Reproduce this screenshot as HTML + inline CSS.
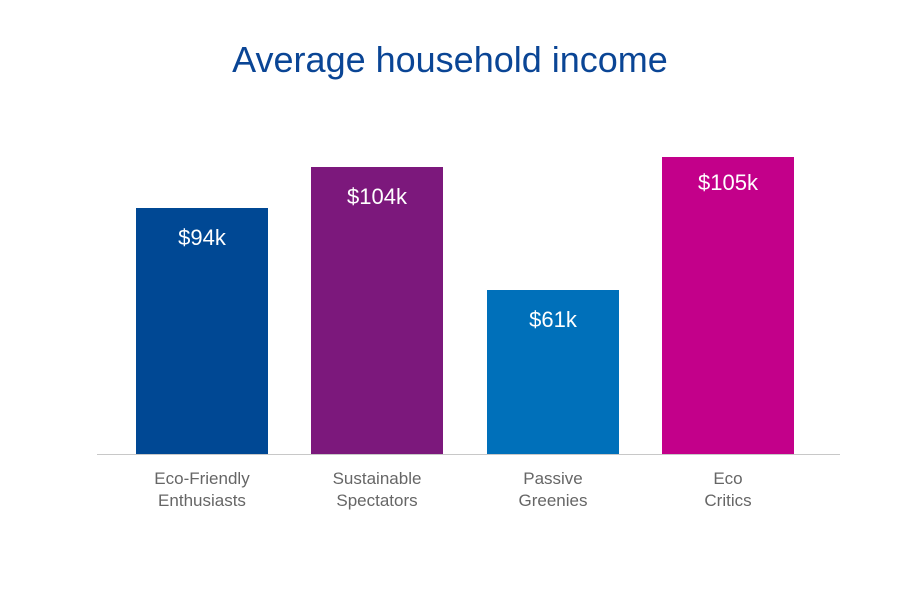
<!DOCTYPE html>
<html><head><style>
body{margin:0;width:900px;height:600px;background:#fff;overflow:hidden}
svg text{font-family:"Liberation Sans",sans-serif}
</style></head><body>
<svg width="900" height="600" xmlns="http://www.w3.org/2000/svg">
<text x="450" y="72" text-anchor="middle" font-size="36" fill="#0A4595">Average household income</text>
<rect x="136" y="208" width="132" height="246" fill="#004894"/>
<rect x="311" y="167" width="132" height="287" fill="#7C187C"/>
<rect x="487" y="290" width="132" height="164" fill="#0070BA"/>
<rect x="662" y="157" width="132" height="297" fill="#C3008A"/>
<line x1="97" y1="454.5" x2="840" y2="454.5" stroke="#c8c8c8" stroke-width="1"/>
<g font-size="22" fill="#fff" text-anchor="middle">
<text x="202" y="245">$94k</text>
<text x="377" y="204">$104k</text>
<text x="553" y="327">$61k</text>
<text x="728" y="190">$105k</text>
</g>
<g font-size="17" fill="#666" text-anchor="middle">
<text x="202" y="484">Eco-Friendly</text><text x="202" y="506">Enthusiasts</text>
<text x="377" y="484">Sustainable</text><text x="377" y="506">Spectators</text>
<text x="553" y="484">Passive</text><text x="553" y="506">Greenies</text>
<text x="728" y="484">Eco</text><text x="728" y="506">Critics</text>
</g>
</svg>
</body></html>
